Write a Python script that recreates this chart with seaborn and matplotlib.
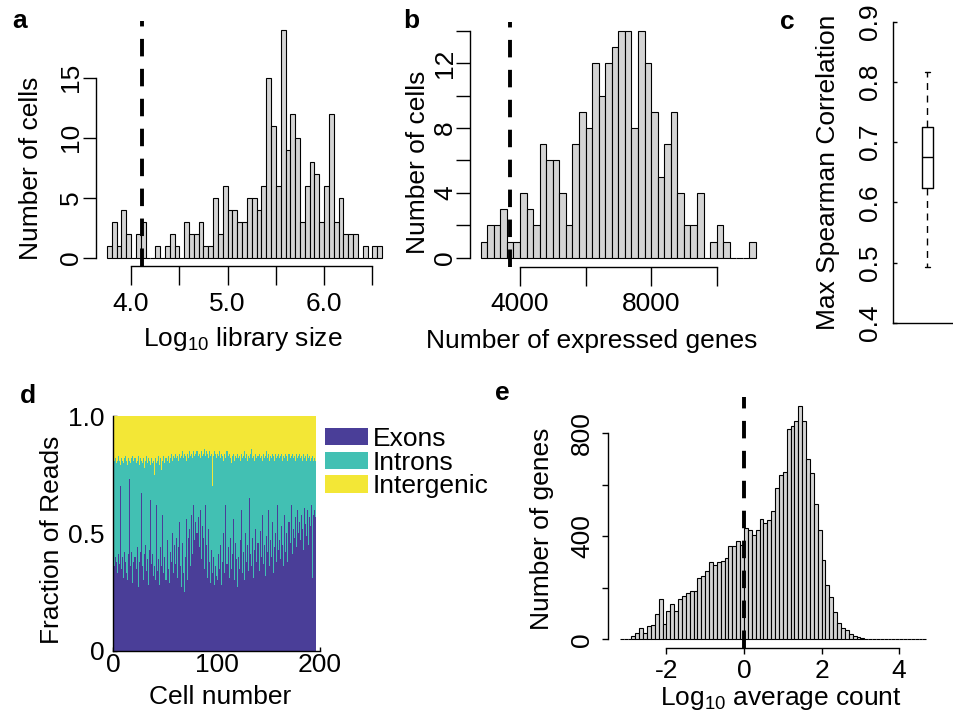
import numpy as np
import pandas as pd
import seaborn as sns
import matplotlib.pyplot as plt
from matplotlib.patches import Patch

# a: log10 library size, counts per 0.05 bin starting at 3.75
lib_size_start = 3.75
lib_size_width = 0.05
lib_size_counts = [1, 3, 1, 4, 2, 0, 2, 3, 0, 0,
                   1, 0, 1, 2, 1, 0, 3, 2, 2, 3,
                   1, 1, 5, 2, 6, 4, 4, 3, 3, 5,
                   5, 4, 6, 15, 11, 6, 19, 9, 12, 10,
                   3, 6, 8, 7, 3, 6, 12, 3, 5, 2,
                   2, 2, 0, 1, 0, 1, 1]
lib_size_cutoff = 4.11

# b: number of expressed genes, counts per 200 bin starting at 2800
genes_start = 2800
genes_width = 200
genes_counts = [1, 2, 2, 3, 1, 1, 4, 3, 2, 7,
                6, 6, 4, 2, 7, 9, 8, 12, 10, 12,
                13, 14, 14, 8, 14, 12, 9, 5, 7, 9,
                4, 2, 2, 4, 0, 1, 2, 1, 0, 0,
                0, 1]
genes_cutoff = 3700

# c: max spearman correlation (min, q1, median, q3, max)
spearman_summary = [0.493, 0.623, 0.676, 0.725, 0.816]

# d: read fractions per cell
exon_frac = [0.36, 0.40, 0.38, 0.33, 0.41, 0.37, 0.70, 0.35, 0.40, 0.31, 0.42, 0.38, 0.33, 0.30, 0.41, 0.73, 0.36, 0.42, 0.29, 0.38,
             0.40, 0.35, 0.44, 0.27, 0.38, 0.42, 0.67, 0.36, 0.30, 0.41, 0.45, 0.34, 0.39, 0.28, 0.43, 0.64, 0.37, 0.41, 0.32, 0.36,
             0.30, 0.62, 0.34, 0.39, 0.28, 0.44, 0.36, 0.58, 0.33, 0.40, 0.30, 0.47, 0.35, 0.29, 0.42, 0.38, 0.50, 0.33, 0.45, 0.37,
             0.48, 0.31, 0.44, 0.55, 0.36, 0.27, 0.46, 0.33, 0.25, 0.40, 0.56, 0.30, 0.48, 0.52, 0.36, 0.58, 0.41, 0.62, 0.47, 0.55,
             0.50, 0.57, 0.44, 0.60, 0.39, 0.53, 0.48, 0.35, 0.62, 0.45, 0.31, 0.52, 0.38, 0.29, 0.43, 0.33, 0.40, 0.28, 0.36, 0.32,
             0.30, 0.41, 0.35, 0.45, 0.28, 0.38, 0.50, 0.33, 0.62, 0.37, 0.44, 0.31, 0.48, 0.35, 0.41, 0.56, 0.30, 0.46, 0.39, 0.27,
             0.40, 0.35, 0.47, 0.60, 0.33, 0.42, 0.30, 0.50, 0.38, 0.45, 0.34, 0.65, 0.41, 0.36, 0.48, 0.31, 0.43, 0.52, 0.38, 0.46,
             0.34, 0.51, 0.40, 0.58, 0.37, 0.45, 0.32, 0.49, 0.42, 0.60, 0.36, 0.47, 0.40, 0.55, 0.33, 0.44, 0.50, 0.38, 0.62, 0.43,
             0.47, 0.39, 0.53, 0.45, 0.36, 0.58, 0.42, 0.50, 0.38, 0.55, 0.46, 0.62, 0.41, 0.52, 0.48, 0.57, 0.44, 0.60, 0.50, 0.55,
             0.47, 0.58, 0.52, 0.43, 0.61, 0.54, 0.49, 0.60, 0.45, 0.57, 0.53, 0.62, 0.31, 0.58, 0.60, 0.57]
intergenic_frac = [0.19, 0.18, 0.20, 0.19, 0.17, 0.19, 0.21, 0.18, 0.19, 0.20, 0.18, 0.17, 0.19, 0.21, 0.18, 0.19, 0.20, 0.18, 0.17, 0.19,
                   0.18, 0.20, 0.19, 0.17, 0.21, 0.18, 0.19, 0.20, 0.18, 0.22, 0.19, 0.17, 0.20, 0.18, 0.19, 0.21, 0.18, 0.20, 0.19, 0.25,
                   0.18, 0.20, 0.19, 0.17, 0.21, 0.18, 0.23, 0.19, 0.17, 0.20, 0.18, 0.19, 0.17, 0.20, 0.18, 0.16, 0.19, 0.17, 0.18, 0.16,
                   0.18, 0.17, 0.19, 0.16, 0.18, 0.17, 0.15, 0.18, 0.16, 0.17, 0.19, 0.16, 0.18, 0.15, 0.17, 0.16, 0.18, 0.15, 0.17, 0.16,
                   0.15, 0.17, 0.16, 0.18, 0.15, 0.17, 0.16, 0.14, 0.17, 0.15, 0.16, 0.18, 0.15, 0.17, 0.16, 0.30, 0.17, 0.15, 0.16, 0.18,
                   0.16, 0.17, 0.15, 0.18, 0.16, 0.17, 0.19, 0.16, 0.18, 0.15, 0.17, 0.16, 0.18, 0.20, 0.17, 0.16, 0.19, 0.17, 0.18, 0.16,
                   0.18, 0.17, 0.19, 0.16, 0.18, 0.17, 0.15, 0.18, 0.16, 0.19, 0.17, 0.18, 0.16, 0.14, 0.18, 0.17, 0.19, 0.16, 0.18, 0.17,
                   0.16, 0.18, 0.17, 0.19, 0.16, 0.18, 0.17, 0.15, 0.18, 0.16, 0.19, 0.17, 0.18, 0.16, 0.17, 0.19, 0.16, 0.18, 0.17, 0.16,
                   0.18, 0.17, 0.16, 0.19, 0.17, 0.18, 0.16, 0.17, 0.19, 0.16, 0.18, 0.17, 0.16, 0.18, 0.17, 0.19, 0.16, 0.18, 0.17, 0.16,
                   0.18, 0.17, 0.19, 0.16, 0.18, 0.17, 0.19, 0.16, 0.18, 0.17, 0.19, 0.18, 0.17, 0.19, 0.18, 0.19]
regions = ['Exons', 'Introns', 'Intergenic']
region_colors = {'Exons': '#4a3e98', 'Introns': '#42c0b3', 'Intergenic': '#f3e736'}

# e: log10 average count, counts per 0.1 bin starting at -3.2
avg_start = -3.2
avg_width = 0.1
avg_counts = [3, 3, 2, 12, 25, 45, 25, 53, 54, 98,
              155, 60, 110, 137, 110, 155, 167, 181, 186, 188,
              237, 245, 265, 300, 290, 300, 303, 317, 361, 364,
              381, 365,
              432, 423, 404, 423, 469, 452, 465, 497, 589, 637,
              651, 816, 827, 849, 905, 848, 702, 646, 526, 423,
              309, 212, 164, 105, 65, 45, 35, 20, 12, 8,
              5, 3, 2, 1, 1, 1, 2, 1, 1, 0,
              1, 1, 1, 0, 1, 1, 1]

sns.set_style('ticks', {'axes.edgecolor': 'black', 'text.color': 'black',
                        'xtick.color': 'black', 'ytick.color': 'black'})
plt.rcParams['font.family'] = ['Liberation Sans', 'DejaVu Sans']
plt.rcParams['mathtext.fontset'] = 'custom'
plt.rcParams['mathtext.rm'] = 'Liberation Sans'
plt.rcParams['mathtext.it'] = 'Liberation Sans:italic'
plt.rcParams['axes.linewidth'] = 1

W, H = 954, 715
FS = 19
BAR = '#d4d4d4'
fig = plt.figure(figsize=(W / 100, H / 100), dpi=100)


def px_axes(x0, y0, x1, y1):
    # pixel box (top-left origin) -> axes
    return fig.add_axes([x0 / W, 1 - y1 / H, (x1 - x0) / W, (y1 - y0) / H])


def px_text(x, y, s, **kw):
    kw.setdefault('ha', 'center')
    kw.setdefault('va', 'center')
    kw.setdefault('fontsize', FS)
    fig.text(x / W, 1 - y / H, s, **kw)


def r_axes(ax, xticks, xlabels, yticks, ylabels, xlen, ylen, xpad, ypad):
    sns.despine(ax=ax)
    ax.spines['left'].set_bounds(yticks[0], yticks[-1])
    ax.spines['bottom'].set_bounds(xticks[0], xticks[-1])
    ax.set_xticks(xticks, xlabels)
    ax.set_yticks(yticks, ylabels)
    ax.tick_params(axis='x', direction='out', length=xlen, width=1, pad=xpad, labelsize=FS)
    ax.tick_params(axis='y', direction='out', length=ylen, width=1, pad=ypad, labelsize=FS,
                   labelrotation=90)
    plt.setp(ax.get_xticklabels(), va='center')
    plt.setp(ax.get_yticklabels(), ha='center', va='center')
    ax.set_xlabel('')
    ax.set_ylabel('')


def hist_from_counts(ax, start, width, counts):
    edges = start + width * np.arange(len(counts) + 1)
    binned = pd.DataFrame({'mid': edges[:-1] + width / 2, 'n': counts})
    sns.histplot(binned, x='mid', weights='n', bins=edges.tolist(), color=BAR,
                 edgecolor='black', linewidth=0.8, alpha=1, ax=ax)


# a
ax = px_axes(96, 20.6, 393, 266.3)
hist_from_counts(ax, lib_size_start, lib_size_width, lib_size_counts)
ax.axvline(lib_size_cutoff, color='black', lw=2.8, dashes=(4.5, 3.2))
ax.set_xlim(3.636, 6.714)
ax.set_ylim(-0.72, 19.76)
r_axes(ax, [4.0, 4.5, 5.0, 5.5, 6.0, 6.5], ['4.0', '', '5.0', '', '6.0', ''],
       [0, 5, 10, 15], ['0', '5', '10', '15'], 13.5, 9.4, 14, 8.4)
px_text(31, 168, 'Number of cells', rotation=90)
px_text(243, 339, r'Log$_{10}$ library size')

# b
ax = px_axes(469.6, 21.6, 767, 266.8)
hist_from_counts(ax, genes_start, genes_width, genes_counts)
ax.axvline(genes_cutoff, color='black', lw=2.8, dashes=(4.5, 3.2))
ax.set_xlim(2464, 11536)
ax.set_ylim(-0.56, 14.57)
r_axes(ax, [4000, 6000, 8000, 10000], ['4000', '', '8000', ''],
       [0, 2, 4, 6, 8, 10, 12, 14], ['0', '', '4', '', '8', '', '12', ''], 13.5, 10, 13, 7.6)
px_text(418, 162, 'Number of cells', rotation=90)
px_text(592, 341, 'Number of expressed genes')

# c
ax = px_axes(893.3, 21.7, 993.3, 322.7)
sns.boxplot(y=spearman_summary, width=0.3, fill=False, color='black', linecolor='black',
            linewidth=1, whiskerprops={'linestyle': (0, (5, 4))}, ax=ax)
ax.set_xlim(-0.985, 1.9)
ax.set_ylim(0.4, 0.9)
sns.despine(ax=ax)
ax.set_xticks([])
ax.set_yticks([0.4, 0.5, 0.6, 0.7, 0.8, 0.9], ['0.4', '0.5', '0.6', '0.7', '0.8', '0.9'])
ax.tick_params(axis='y', direction='in', length=3, width=1, pad=16.8, labelsize=FS,
               labelrotation=90)
plt.setp(ax.get_yticklabels(), ha='center', va='center')
ax.set_ylabel('')
px_text(827.5, 172, 'Max Spearman Correlation', rotation=90)

# d
n_cells = len(exon_frac)
exon = np.array(exon_frac)
intergenic = np.array(intergenic_frac)
intron = 1 - exon - intergenic
reads = pd.DataFrame({
    'cell': np.tile(np.arange(1, n_cells + 1), 3),
    'fraction': np.concatenate([exon, intron, intergenic]),
    'region': np.repeat(regions, n_cells),
})
ax = px_axes(113.3, 416, 320, 650.7)
sns.histplot(reads, x='cell', weights='fraction', hue='region', hue_order=regions[::-1],
             multiple='stack', discrete=True, palette=region_colors, alpha=1, linewidth=0,
             legend=False, ax=ax)
ax.set_xlim(0, 200)
ax.set_ylim(0, 1)
sns.despine(ax=ax)
ax.set_xticks([0, 100, 200], ['0', '100', '200'])
ax.set_yticks([0, 0.5, 1.0], ['0', '0.5', '1.0'])
ax.tick_params(direction='in', length=3, width=1, labelsize=FS)
ax.tick_params(axis='x', pad=10.3)
ax.tick_params(axis='y', pad=6)
plt.setp(ax.get_xticklabels(), va='center')
ax.set_xlabel('')
ax.set_ylabel('')
handles = [Patch(facecolor=region_colors[r], edgecolor='none', label=r) for r in regions]
ax.legend(handles=handles, loc='upper left', bbox_to_anchor=(325 / W, 1 - 427 / H),
          bbox_transform=fig.transFigure, frameon=False, fontsize=FS, handlelength=1.63,
          handleheight=0.64, handletextpad=0.19, labelspacing=-0.01, borderpad=0,
          borderaxespad=0)
px_text(52, 539.5, 'Fraction of Reads', rotation=90)
px_text(220, 697, 'Cell number')

# e
ax = px_axes(607.6, 397, 938.6, 648.3)
hist_from_counts(ax, avg_start, avg_width, avg_counts)
ax.axvline(0, color='black', lw=2.8, dashes=(4.5, 3.2))
ax.set_xlim(-3.516, 5.016)
ax.set_ylim(-35, 941)
r_axes(ax, [-2, 0, 2, 4], ['-2', '0', '2', '4'],
       [0, 200, 400, 600, 800], ['0', '', '400', '', '800'], 4.3, 4.3, 12, 14.1)
px_text(542, 529, 'Number of genes', rotation=90)
px_text(781, 698, r'Log$_{10}$ average count')

# panel letters
for letter, x, y in [('a', 12, 28), ('b', 403, 28), ('c', 780, 29), ('d', 20, 403), ('e', 495, 400)]:
    px_text(x, y, letter, ha='left', va='baseline', fontweight='bold')

fig.savefig('out.png', dpi=100)
